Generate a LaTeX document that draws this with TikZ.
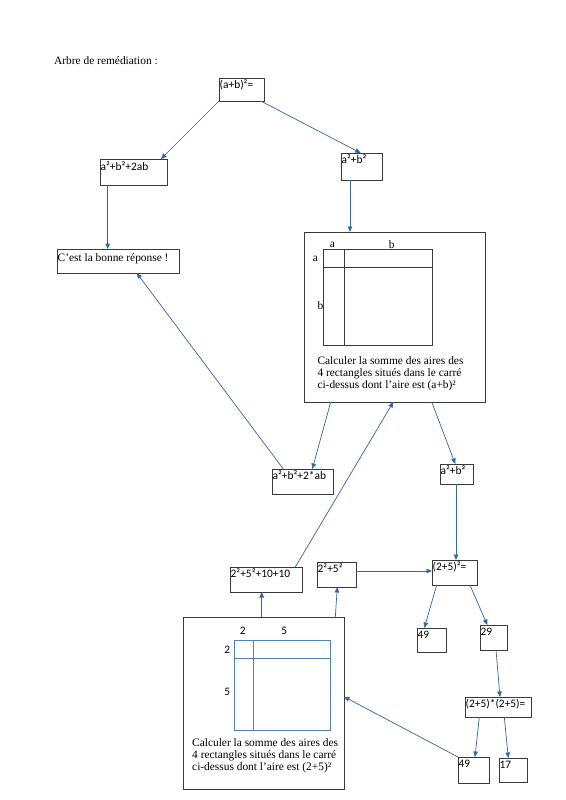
\documentclass[tikz,border=0pt]{standalone}
\usepackage{fontspec}
\setmainfont{Liberation Serif}
\newfontfamily\carlito{Carlito}
\usetikzlibrary{arrows.meta,calc}
\definecolor{conn}{HTML}{3465A4}
\definecolor{gridblue}{HTML}{4F81BD}
\definecolor{boxline}{HTML}{3A3A3A}
\newcommand{\mybx}[5]{%
  \node[bx, minimum width={#4-#2}, minimum height={#5-#3}] (#1) at (#2,#3) {};}
\tikzset{
  bx/.style={draw=boxline, line width=0.8pt, anchor=north west, inner sep=0pt, outer sep=0pt},
  sanslbl/.style={anchor=base west, inner sep=0pt, font=\carlito\fontsize{11.4}{13}\selectfont},
  seriflbl/.style={anchor=base west, inner sep=0pt, font=\fontsize{11.4}{13}\selectfont},
  conn/.style={draw=conn, line width=0.7pt, -{Triangle[length=5.5pt,width=4.5pt]}},
}
\begin{document}
\begin{tikzpicture}[x=1pt,y=-1pt]
\useasboundingbox[fill=white] (0,0) rectangle (565,800);
% title
\node[seriflbl] (title) at (54,64.3) {Arbre de remédiation :};
% boxes
\mybx{A}{219}{78}{264}{101}
\mybx{B}{100}{159}{167}{185}
\mybx{C}{341}{153}{382}{180}
\mybx{D}{57}{249}{179}{273}
\mybx{E}{304}{232}{485}{402}
\mybx{F}{272}{469}{333}{494}
\mybx{G}{440}{464}{473}{484}
\mybx{H}{230}{567}{302}{592}
\mybx{I}{317}{562}{356}{587}
\mybx{J}{432}{560}{477}{585}
\mybx{K}{417}{628}{446}{652}
\mybx{L}{480}{625}{507}{650}
\mybx{M}{465}{697}{531}{717}
\mybx{N}{458}{757}{489}{783}
\mybx{O}{499}{758}{527}{782}
\mybx{P}{183}{617}{344}{789}
% box labels
\node[sanslbl] (tA) at ($(A.north west)+(0.5,10.5)$) {(a+b)²=};
\node[sanslbl] (tB) at ($(B.north west)+(0.5,11)$) {a²+b²+2ab};
\node[sanslbl] (tC) at ($(C.north west)+(0.5,10.5)$) {a²+b²};
\node[seriflbl] (tD) at ($(D.north west)+(0.5,12)$) {C’est la bonne réponse !};
\node[sanslbl] (tF) at ($(F.north west)+(0.5,10.5)$) {a²+b²+2*ab};
\node[sanslbl] (tG) at ($(G.north west)+(0.5,10.5)$) {a²+b²};
\node[sanslbl] (tH) at ($(H.north west)+(0.5,10.5)$) {2²+5²+10+10};
\node[sanslbl] (tI) at ($(I.north west)+(0.5,10.5)$) {2²+5²};
\node[sanslbl] (tJ) at ($(J.north west)+(0.5,10.5)$) {(2+5)²=};
\node[sanslbl] (tK) at ($(K.north west)+(0.5,10.5)$) {49};
\node[sanslbl] (tL) at ($(L.north west)+(0.5,10.5)$) {29};
\node[sanslbl] (tM) at ($(M.north west)+(0.5,10.5)$) {(2+5)*(2+5)=};
\node[sanslbl] (tN) at ($(N.north west)+(0.5,10.5)$) {49};
\node[sanslbl] (tO) at ($(O.north west)+(0.5,10.5)$) {17};
% top square grid
\draw[boxline, line width=0.8pt] (323.7,249.3) rectangle (432,345.3);
\draw[boxline, line width=0.8pt] (344.7,249.3) -- (344.7,345.3);
\draw[boxline, line width=0.8pt] (323.7,267.7) -- (432,267.7);
\node[seriflbl, anchor=base] (ga1) at (332.3,247.5) {a};
\node[seriflbl, anchor=base] (gb1) at (391.7,248.5) {b};
\node[seriflbl, anchor=base] (ga2) at (315.3,261.5) {a};
\node[seriflbl, anchor=base] (gb2) at (320.5,309.5) {b};
\node[seriflbl] (e1) at (317.3,364.3) {Calculer la somme des aires des};
\node[seriflbl] (e2) at (317.3,376.2) {4 rectangles situés dans le carré};
\node[seriflbl] (e3) at (317.3,388) {ci-dessus dont l’aire est (a+b)²};
% bottom square grid
\draw[gridblue, line width=0.8pt] (234.7,640.3) rectangle (330.3,730);
\draw[gridblue, line width=0.8pt] (253.3,640.3) -- (253.3,730);
\draw[gridblue, line width=0.8pt] (234.7,658) -- (330.3,658);
\node[sanslbl, anchor=base] (g21) at (242.7,634.5) {2};
\node[sanslbl, anchor=base] (g51) at (284.3,634.5) {5};
\node[sanslbl, anchor=base] (g22) at (227.3,653) {2};
\node[sanslbl, anchor=base] (g52) at (227.3,695.3) {5};
\node[seriflbl] (p1) at (192,746.8) {Calculer la somme des aires des};
\node[seriflbl] (p2) at (192,758.7) {4 rectangles situés dans le carré};
\node[seriflbl] (p3) at (192,770.5) {ci-dessus dont l’aire est (2+5)²};
% connectors
\draw[conn] (A.south west) -- ($(B.north west)+(61,0)$);
\draw[conn] ($(A.south west)+(41.7,0)$) -- ($(C.north west)+(19.7,0)$);
\draw[conn] ($(B.south west)+(7.7,0)$) -- ($(D.north west)+(50.7,0)$);
\draw[conn] ($(C.south west)+(9,0)$) -- ($(E.north west)+(46,0)$);
\draw[conn] ($(F.north west)+(11.3,0)$) -- ($(D.south west)+(79.7,0)$);
\draw[conn] ($(E.south west)+(26.7,0)$) -- ($(F.north west)+(40.3,0)$);
\draw[conn] ($(H.north west)+(65.3,0)$) -- ($(E.south west)+(89.3,0)$);
\draw[conn] ($(E.south west)+(127.7,0)$) -- ($(G.north west)+(15.3,0)$);
\draw[conn] ($(G.south west)+(16,0)$) -- ($(J.north west)+(24,0)$);
\draw[conn] ($(I.north east)+(0,9)$) -- ($(J.north west)+(0,11)$);
\draw[conn] ($(J.south west)+(4.7,0)$) -- ($(K.north west)+(7.3,0)$);
\draw[conn] ($(J.south west)+(38,0)$) -- ($(L.north west)+(7.3,0)$);
\draw[conn] ($(L.south west)+(16,0)$) -- ($(M.north west)+(35,0)$);
\draw[conn] ($(M.south west)+(14.3,0)$) -- ($(N.north west)+(17,0)$);
\draw[conn] ($(M.south west)+(39.3,0)$) -- ($(O.north west)+(9.3,0)$);
\draw[conn] (N.north west) -- ($(P.north east)+(0,79.7)$);
\draw[conn] ($(P.north west)+(78.7,0)$) -- ($(H.south west)+(31.7,0)$);
\draw[conn] ($(P.north west)+(152.3,0)$) -- ($(I.south west)+(20.3,0)$);
\end{tikzpicture}
\end{document}
